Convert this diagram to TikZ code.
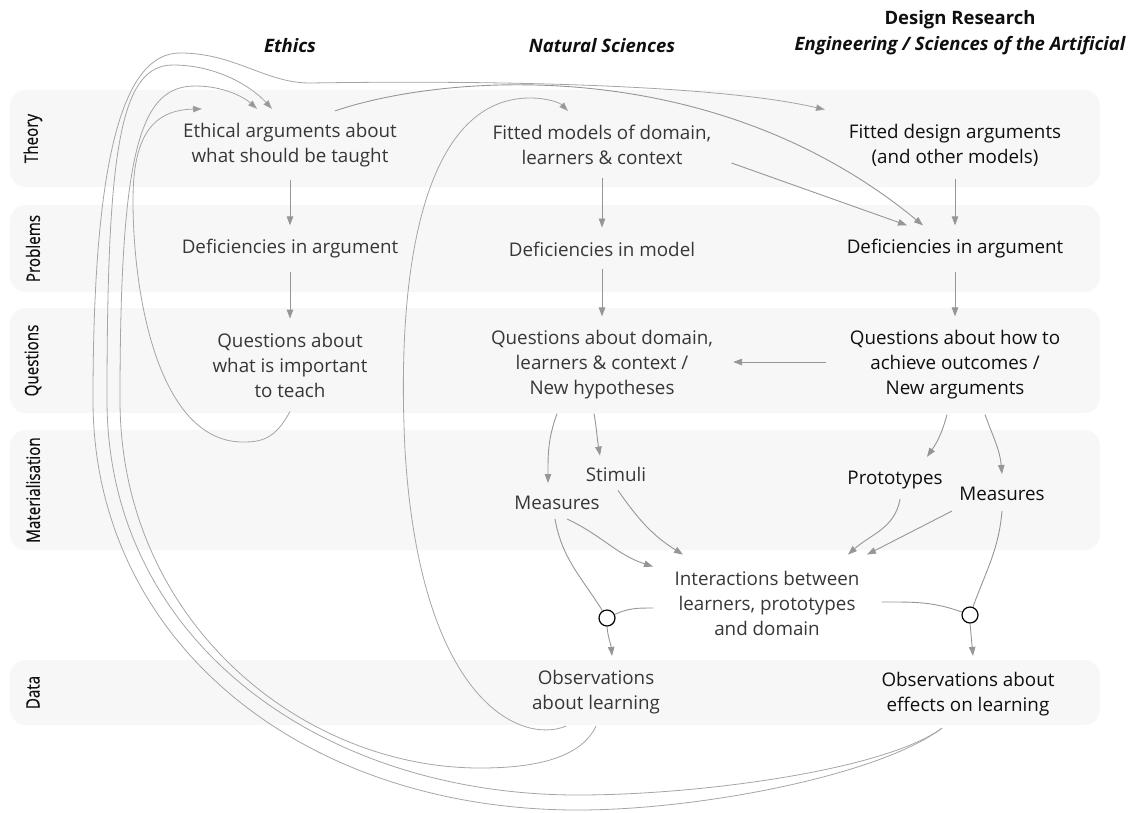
\documentclass[tikz,border=0pt]{standalone}
\usepackage{fontspec}
\setmainfont{Open Sans}
\newfontfamily\condfont[FakeStretch=0.82,FakeBold=0.4]{Open Sans}
\usetikzlibrary{arrows.meta}
\definecolor{bandF}{RGB}{247,247,247}
\definecolor{txtN}{RGB}{55,55,55}
\definecolor{txtD}{RGB}{15,15,15}
\definecolor{lineA}{RGB}{150,150,150}
\definecolor{lineF}{RGB}{165,165,165}
\tikzset{
  band/.style={fill=bandF,rounded corners=16pt},
  rowlabel/.style={rotate=90,font=\condfont\fontsize{18.5}{18.5}\selectfont,text=txtD},
  colhead/.style={font=\bfseries\itshape\fontsize{18.5}{20}\selectfont,text=txtD},
  stage/.style={align=center,font=\fontsize{18.8}{25}\selectfont,text=txtN,inner sep=4pt},
  stageD/.style={stage,text=txtD},
  link/.style={draw=lineA,line width=0.9pt,-{Triangle[length=9pt,width=6.5pt]}},
  vlink/.style={link,shorten <=9pt,shorten >=10pt},
  wire/.style={draw=lineA,line width=0.9pt},
  feedback/.style={draw=lineF,line width=0.8pt,-{Triangle[length=9pt,width=6.5pt,fill=lineA]}},
  gate/.style={circle,draw=black,fill=white,line width=1.2pt,minimum size=16pt,inner sep=0pt}
}
\begin{document}
\begin{tikzpicture}[x=1pt,y=-1pt]
  \useasboundingbox (0,0) rectangle (1134,812);
  % rows
  \foreach \yt/\yb/\lbl [count=\i] in {90/187/Theory,205/292/Problems,308/413/Questions,430/550/Materialisation,660/725/Data}{
    \fill[band] (10,\yt) rectangle (1100,\yb);
    \node[rowlabel] (row\i) at (33,{(\yt+\yb)/2}) {\lbl};
  }
  % column heads
  \node[colhead] (hEth) at (290,46) {Ethics};
  \node[colhead] (hNat) at (602,46) {Natural Sciences};
  \node[colhead,font=\bfseries\fontsize{18.5}{20}\selectfont] (hDes) at (960,20) {Design Research};
  \node[colhead] (hEng) at (960,46) {Engineering / Sciences of the Artificial};
  % ethics
  \node[stage] (ethArg) at (290,145) {Ethical arguments about\\what should be taught};
  \node[stage] (ethDef) at (290,249) {Deficiencies in argument};
  \node[stage] (ethQ) at (290,365) {Questions about\\what is important\\to teach};
  % natural sciences
  \node[stage] (natFit) at (602,145) {Fitted models of domain,\\learners \& context};
  \node[stage] (natDef) at (602,249) {Deficiencies in model};
  \node[stage] (natQ) at (602,365) {Questions about domain,\\learners \& context /\\New hypotheses};
  \node[stage] (natMeas) at (557,503) {Measures};
  \node[stage] (natStim) at (616,474) {Stimuli};
  \node[stage] (natObs) at (596,692) {Observations\\about learning};
  % design research
  \node[stageD] (desFit) at (955,145) {Fitted design arguments\\(and other models)};
  \node[stageD] (desDef) at (955,249) {Deficiencies in argument};
  \node[stageD] (desQ) at (955,365) {Questions about how to\\achieve outcomes /\\New arguments};
  \node[stageD] (desProto) at (895,480) {Prototypes};
  \node[stageD] (desMeas) at (1002,494) {Measures};
  \node[stageD] (desObs) at (968,694) {Observations about\\effects on learning};
  % shared
  \node[stage] (inter) at (767,603) {Interactions between\\learners, prototypes\\and domain};
  \node[gate] (gateN) at (607,618) {};
  \node[gate] (gateD) at (970,615) {};

  % down the columns
  \draw[vlink] (ethArg) -- (ethDef);
  \draw[vlink] (ethDef) -- (ethQ);
  \draw[vlink] (natFit) -- (natDef);
  \draw[vlink] (natDef) -- (natQ);
  \draw[vlink] (desFit) -- (desDef);
  \draw[vlink] (desDef) -- (desQ);
  \draw[link,shorten <=20pt,shorten >=16pt] ([yshift=3pt]desQ.west) -- ([yshift=3pt]natQ.east);
  \draw[link] ([xshift=16pt,yshift=6pt]natFit.south east) -- ([xshift=-48pt,yshift=10pt]desDef.north);
  \draw[link] ([xshift=45pt,yshift=8pt]ethArg.north) .. controls (440,75) and (710,50) .. ([xshift=-32pt,yshift=10pt]desDef.north);

  % materialisation
  \draw[link] ([xshift=-45pt,yshift=-10pt]natQ.south) to[out=-110,in=90] ([xshift=-9pt,yshift=9pt]natMeas.north);
  \draw[link] ([xshift=-8pt,yshift=-10pt]natQ.south) to[out=-80,in=100] ([xshift=-16pt,yshift=7pt]natStim.north);
  \draw[link] ([xshift=-8pt,yshift=-11pt]desQ.south) to[out=-105,in=55] ([xshift=32pt,yshift=10pt]desProto.north);
  \draw[link] ([xshift=30pt,yshift=-11pt]desQ.south) to[out=-70,in=95] ([yshift=9pt]desMeas.north);
  \draw[link] ([xshift=2pt,yshift=-5pt]natStim.south) to[out=-55,in=148] ([xshift=-84pt,yshift=12pt]inter.north);
  \draw[link] ([xshift=10pt,yshift=-5pt]natMeas.south) to[out=-25,in=162] ([xshift=-114pt,yshift=0pt]inter.north);
  \draw[link] ([xshift=5pt,yshift=-6pt]desProto.south) to[out=-100,in=42] ([xshift=81pt,yshift=12pt]inter.north);
  \draw[link] ([xshift=-50pt,yshift=-6pt]desMeas.south) -- ([xshift=100pt,yshift=12pt]inter.north);
  \draw[wire] ([xshift=-2pt,yshift=-5pt]natMeas.south) to[out=-80,in=122] (gateN);
  \draw[wire] ([xshift=-17pt,yshift=-5pt]inter.west) to[out=180,in=25] (gateN);
  \draw[wire] ([xshift=18pt,yshift=1pt]inter.east) to[out=0,in=160] (gateD);
  \draw[wire] ([yshift=-6pt]desMeas.south) to[out=-95,in=70] (gateD);
  \draw[link] (gateN.south) to[out=-85,in=95] ([xshift=16pt,yshift=10pt]natObs.north);
  \draw[link] (gateD.south) -- ([xshift=5pt,yshift=12pt]desObs.north);

  % feedback loops
  \draw[feedback] ([xshift=-26pt,yshift=-8pt]desObs.south) .. controls (880,775) and (700,810) .. (578,810)
    .. controls (300,810) and (93,640) .. (93,400) .. controls (93,150) and (125,53) .. (180,53)
    .. controls (235,53) and (265,83) .. (310,83) .. controls (500,80) and (720,85) .. ([xshift=-130pt,yshift=10pt]desFit.north);
  \draw[feedback] ([xshift=-26pt,yshift=-8pt]desObs.south) .. controls (885,770) and (700,795) .. (578,795)
    .. controls (320,795) and (107,640) .. (107,400) .. controls (107,150) and (120,65) .. (173,65)
    .. controls (215,65) and (250,85) .. ([xshift=-18pt,yshift=10pt]ethArg.north);
  \draw[feedback] ([yshift=-8pt]natObs.south) .. controls (580,760) and (530,768) .. (480,768)
    .. controls (300,768) and (120,620) .. (120,400) .. controls (120,150) and (140,86) .. (195,86)
    .. controls (225,86) and (245,98) .. ([xshift=-33pt,yshift=10pt]ethArg.north);
  \draw[feedback] ([yshift=-10pt]ethQ.south) .. controls (275,440) and (260,442) .. (243,442)
    .. controls (160,442) and (133,300) .. (133,200) .. controls (133,140) and (150,110) .. ([xshift=-88pt,yshift=10pt]ethArg.north);
  \draw[feedback] ([xshift=-30pt,yshift=-8pt]natObs.south) .. controls (520,745) and (420,700) .. (405,450)
    .. controls (395,250) and (430,98) .. (530,98) .. controls (548,98) and (560,103) .. ([xshift=-34pt,yshift=10pt]natFit.north);
\end{tikzpicture}
\end{document}
